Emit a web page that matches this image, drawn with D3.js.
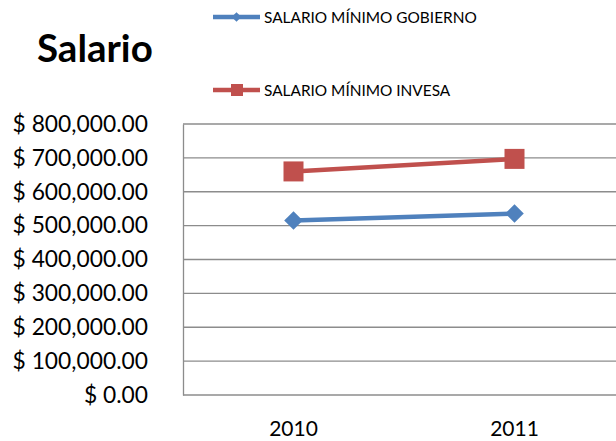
<!DOCTYPE html>
<html>
<head>
<meta charset="utf-8">
<script src="https://cdn.jsdelivr.net/npm/d3@7"></script>
<style>
  body { margin: 0; background: #fff; }
  text { font-family: Lato, "Open Sans", sans-serif; }
</style>
</head>
<body>
<div></div>
<script>
const years = ['2010', '2011'];
const gobierno = [515000, 535600];
const invesa = [660000, 697000];
const yTicks = [0, 100000, 200000, 300000, 400000, 500000, 600000, 700000, 800000];
const seriesNames = ['SALARIO MÍNIMO GOBIERNO', 'SALARIO MÍNIMO INVESA'];

const svgWidth = 616,
	svgHeight = 441;
const plotLeft = 183,
	plotTop = 124,
	plotBottom = 395;

const xScale = d3.scaleBand()
				.domain(years)
				.range([plotLeft, plotLeft + 442]);

const yScale = d3.scaleLinear()
				.domain([0, 800000])
				.range([plotBottom, plotTop]);

const svg = d3.select('body')
			.select('div')
			.append('svg')
			.attr('width', svgWidth)
			.attr('height', svgHeight);

// gridlines
svg.append('g')
	.selectAll('line')
	.data(yTicks)
	.enter()
	.append('line')
	.attr('x1', plotLeft)
	.attr('x2', svgWidth)
	.attr('y1', d => yScale(d))
	.attr('y2', d => yScale(d))
	.attr('stroke', '#8c8c8c')
	.attr('stroke-width', 1.3);

const yAxis = d3.axisLeft(yScale)
				.tickValues(yTicks)
				.tickSize(0)
				.tickPadding(35)
				.tickFormat(d => d === 0 ? '$ 0.00' : '$ ' + d3.format(',.2f')(d));

svg.append('g')
	.attr('transform', `translate(${plotLeft}, 0)`)
	.call(yAxis)
	.call(g => g.select('.domain').attr('stroke', '#8c8c8c').attr('stroke-width', 1.3))
	.selectAll('text')
	.attr('font-size', 22.8)
	.attr('fill', '#000');

const xAxis = d3.axisBottom(xScale).tickSize(0).tickPadding(26);

svg.append('g')
	.attr('transform', `translate(0, ${plotBottom})`)
	.call(xAxis)
	.call(g => g.select('.domain').remove())
	.selectAll('text')
	.attr('font-size', 21)
	.attr('fill', '#000');

const xc = d => xScale(d) + xScale.bandwidth() / 2;

const line = d3.line()
				.x((d, i) => xc(years[i]))
				.y(d => yScale(d));

// series lines
svg.append('path')
	.datum(gobierno)
	.attr('d', line)
	.attr('fill', 'none')
	.attr('stroke', '#4f81bd')
	.attr('stroke-width', 4.5);

svg.append('path')
	.datum(invesa)
	.attr('d', line)
	.attr('fill', 'none')
	.attr('stroke', '#c0504d')
	.attr('stroke-width', 4.5);

// markers
svg.selectAll('.diamond')
	.data(gobierno)
	.enter()
	.append('path')
	.attr('class', 'diamond')
	.attr('d', d3.symbol(d3.symbolDiamond2, 220))
	.attr('transform', (d, i) => `translate(${xc(years[i])}, ${yScale(d)})`)
	.attr('fill', '#4f81bd');

svg.selectAll('.square')
	.data(invesa)
	.enter()
	.append('rect')
	.attr('class', 'square')
	.attr('x', (d, i) => xc(years[i]) - 10)
	.attr('y', d => yScale(d) - 10)
	.attr('width', 20)
	.attr('height', 20)
	.attr('fill', '#c0504d');

// title
svg.append('text')
	.attr('x', 37)
	.attr('y', 62)
	.attr('font-size', 38.5)
	.attr('font-weight', 'bold')
	.text('Salario');

// legend
const legend = svg.selectAll('.legend')
				.data(seriesNames)
				.enter()
				.append('g')
				.attr('class', 'legend')
				.attr('transform', (d, i) => `translate(213, ${17 + i * 73})`);

legend.append('line')
	.attr('x1', 0)
	.attr('x2', 47)
	.attr('stroke', (d, i) => i === 0 ? '#4f81bd' : '#c0504d')
	.attr('stroke-width', 4.5);

legend.filter((d, i) => i === 0)
	.append('path')
	.attr('d', d3.symbol(d3.symbolDiamond2, 60))
	.attr('transform', 'translate(23.5, 0)')
	.attr('fill', '#4f81bd');

legend.filter((d, i) => i === 1)
	.append('rect')
	.attr('x', 18)
	.attr('y', -6)
	.attr('width', 12)
	.attr('height', 12)
	.attr('fill', '#c0504d');

legend.append('text')
	.attr('x', 51)
	.attr('y', 6)
	.attr('font-size', 15.4)
	.attr('fill', '#000')
	.text(d => d);
</script>
</body>
</html>
